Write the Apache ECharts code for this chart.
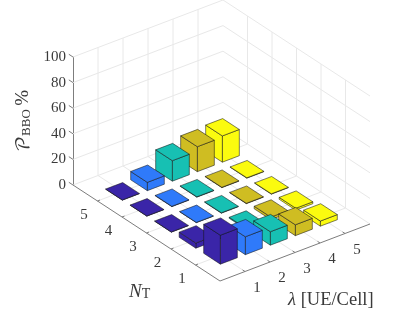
<!DOCTYPE html>
<html>
<head>
<meta charset="utf-8">
<script src="https://cdn.jsdelivr.net/npm/echarts@6/dist/echarts.min.js"></script>
<style>html,body{margin:0;padding:0;background:#fff}#c{width:415px;height:312px}</style>
</head>
<body>
<div id="c"></div>
<script>
const lambdaTicks = [1, 2, 3, 4, 5];
const ntTicks = [1, 2, 3, 4, 5];
const zTicks = [0, 20, 40, 60, 80, 100];
// bar heights by N_T, one value per lambda 1..5
const valuesNT1 = [22.6, 14, 10.5, 8.5, 4];
const valuesNT2 = [4, 0.3, 0.8, 2, 1.5];
const valuesNT3 = [0.2, 0.2, 0.3, 0.3, 0.3];
const valuesNT4 = [0.2, 0.3, 0.3, 0.3, 0.3];
const valuesNT5 = [0.2, 6.5, 16, 19.5, 20.5];
const lambdaColors = ['#3a25a8', '#2f7afa', '#17c0b3', '#cfbd22', '#fbfb0f'];

const allRows = [valuesNT1, valuesNT2, valuesNT3, valuesNT4, valuesNT5];
const barData = [];
for (let n = 5; n >= 1; n--) for (let l = 5; l >= 1; l--) barData.push([l, n, allRows[n - 1][l - 1]]);

const SPAN = 6, HALF = 0.34;
const UX = 25, VX = -9.5, UY = 24.5, VY = 16, ZPX = 1.28;
// oblique projection of (lambda, NT, z) onto the cartesian axes of the grid
function proj(api, l, n, z) {
  return api.coord([l * UX + (SPAN - n) * UY, z + (l * -VX + n * VY - SPAN * VY) / ZPX]);
}
const GRID = '#e8e8e8', AXIS = '#7d7d7d', TXT = '#3a3a3a', SERIF = '"Liberation Serif","DejaVu Serif",serif';

function seg(a, b, color, w) {
  return { type: 'line', shape: { x1: a[0], y1: a[1], x2: b[0], y2: b[1] }, style: { stroke: color, lineWidth: w, fill: null }, silent: true };
}
function label(p, dx, dy, t) {
  return { type: 'text', style: { x: p[0] + dx, y: p[1] + dy, text: String(t), fill: TXT, font: '15px ' + SERIF, textAlign: 'center', textVerticalAlign: 'middle' } };
}
function renderFrame(params, api) {
  const c = [];
  const P = (l, n, z) => proj(api, l, n, z);
  const top = zTicks[zTicks.length - 1];
  zTicks.forEach(z => {
    c.push(seg(P(0, SPAN, z), P(SPAN, SPAN, z), GRID, 1));
    c.push(seg(P(SPAN, SPAN, z), P(SPAN, 0, z), GRID, 1));
  });
  lambdaTicks.forEach(l => {
    c.push(seg(P(l, SPAN, 0), P(l, SPAN, top), GRID, 1));
    c.push(seg(P(l, 0, 0), P(l, SPAN, 0), GRID, 1));
  });
  ntTicks.forEach(n => {
    c.push(seg(P(SPAN, n, 0), P(SPAN, n, top), GRID, 1));
    c.push(seg(P(0, n, 0), P(SPAN, n, 0), GRID, 1));
  });
  c.push(seg(P(0, 0, 0), P(SPAN, 0, 0), AXIS, 1));
  c.push(seg(P(0, 0, 0), P(0, SPAN, 0), AXIS, 1));
  zTicks.forEach(z => c.push(seg(P(0, SPAN, z), P(0, SPAN + 0.17, z), AXIS, 1)));
  lambdaTicks.forEach(l => {
    c.push(seg(P(l, 0, 0), P(l, 0.1, 0), AXIS, 1));
    c.push(label(P(l, 0, 0), 12, 16.5, l));
  });
  ntTicks.forEach(n => {
    c.push(seg(P(0, n, 0), P(0.1, n, 0), AXIS, 1));
    c.push(label(P(0, n, 0), -13.5, 14, n));
  });
  return { type: 'group', children: c };
}
function face(pts, color) {
  return { type: 'polygon', shape: { points: pts }, style: { fill: color, stroke: 'rgba(20,20,20,0.9)', lineWidth: 0.6, lineJoin: 'round' } };
}
function renderBar(params, api) {
  const l = api.value(0), n = api.value(1), v = api.value(2);
  const color = lambdaColors[l - 1];
  const x0 = l - HALF, x1 = l + HALF, y0 = n - HALF, y1 = n + HALF;
  const P = (x, y, z) => proj(api, x, y, z);
  return {
    type: 'group',
    z2: params.dataIndex,
    children: [
      face([P(x0, y0, 0), P(x1, y0, 0), P(x1, y0, v), P(x0, y0, v)], color),
      face([P(x0, y0, 0), P(x0, y1, 0), P(x0, y1, v), P(x0, y0, v)], color),
      face([P(x0, y0, v), P(x1, y0, v), P(x1, y1, v), P(x0, y1, v)], color)
    ]
  };
}
const chart = echarts.init(document.getElementById('c'), null, { renderer: 'canvas' });
chart.setOption({
  animation: false,
  backgroundColor: '#fff',
  grid: { left: 73, top: 57, width: 297, height: 128, containLabel: false },
  xAxis: { type: 'value', min: 0, max: 297, show: false },
  yAxis: {
    type: 'value', min: 0, max: 100, interval: 20,
    axisLine: { show: true, lineStyle: { color: AXIS, width: 1 } },
    axisTick: { show: false },
    splitLine: { show: false },
    axisLabel: { color: TXT, fontFamily: SERIF, fontSize: 15, margin: 7, padding: [0, 0, 7, 0] },
    name: '{p|\u{1D4AB}}{s|BBO} {t|%}',
    nameLocation: 'middle',
    nameGap: 37,
    nameRotate: 90,
    nameTextStyle: {
      rich: {
        p: { fontFamily: '"DejaVu Math TeX Gyre","DejaVu Sans",serif', fontSize: 19, color: TXT },
        s: { fontFamily: SERIF, fontSize: 13, color: TXT, verticalAlign: 'bottom', padding: [6, 0, 0, 0] },
        t: { fontFamily: SERIF, fontSize: 19, color: TXT }
      }
    }
  },
  graphic: [
    { type: 'text', left: 129, top: 282, style: { text: '{i|N}{s|T}', rich: {
      i: { fontFamily: SERIF, fontStyle: 'italic', fontSize: 19, fill: TXT },
      s: { fontFamily: SERIF, fontSize: 14, fill: TXT, padding: [6, 0, 0, 0] } } } },
    { type: 'text', left: 288, top: 291, style: { text: '{g|\u03BB} [UE/Cell]', font: '18.5px ' + SERIF, fill: TXT, rich: {
      g: { fontFamily: SERIF, fontStyle: 'italic', fontSize: 18.5, fill: TXT } } } }
  ],
  series: [
    { type: 'custom', coordinateSystem: 'cartesian2d', silent: true, clip: false, z: 1, data: [[0, 0, 0]], renderItem: renderFrame },
    { type: 'custom', coordinateSystem: 'cartesian2d', silent: true, clip: false, z: 2, data: barData, renderItem: renderBar }
  ]
});
</script>
</body>
</html>
